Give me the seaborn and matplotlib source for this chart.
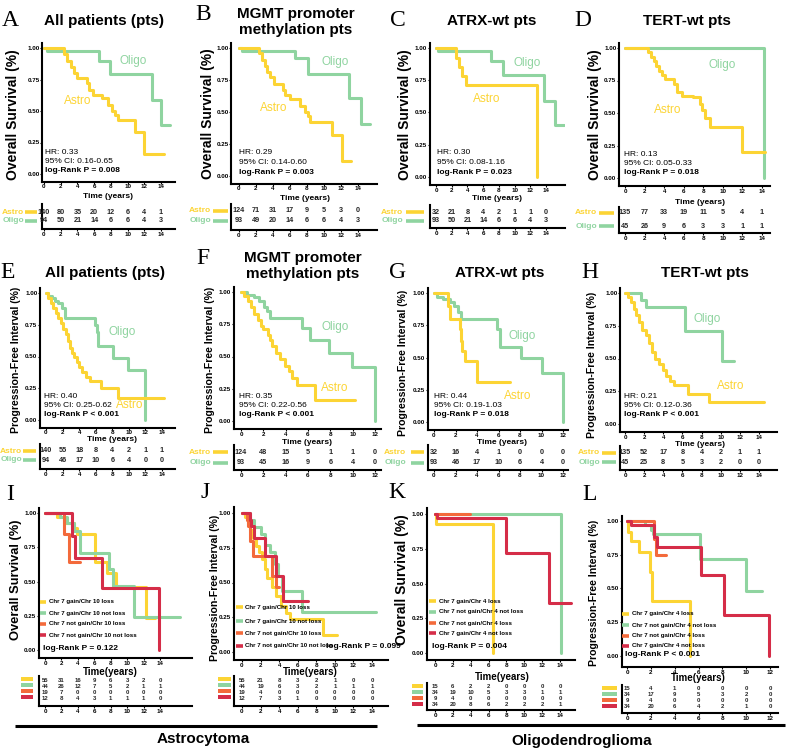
import matplotlib
matplotlib.use("Agg")
import matplotlib.pyplot as plt
from matplotlib.lines import Line2D
from matplotlib.patches import Rectangle
import seaborn as sns

sns.set_style("ticks")
plt.rcParams["font.family"] = ["Liberation Sans", "DejaVu Sans"]

YEL = "#FCD434"
GRN = "#8FD4A0"
ORG = "#F36A3B"
RED = "#D52D48"

# ---------------- data ----------------
# A  overall survival, all patients
a_astro_t = [0, 2.4, 2.8, 3.2, 3.6, 4.0, 5.2, 5.4, 5.9, 6.9, 7.6, 8.1, 8.5, 8.8, 10.9, 12.0, 14.3]
a_astro_s = [1.0, 0.95, 0.90, 0.85, 0.80, 0.76, 0.72, 0.67, 0.63, 0.60, 0.55, 0.50, 0.47, 0.43, 0.33, 0.16, 0.16]
a_oligo_t = [0, 0.4, 6.6, 7.9, 12.9, 14.0, 15.1]
a_oligo_s = [1.0, 0.98, 0.90, 0.79, 0.59, 0.39, 0.39]
a_stats = ["HR: 0.33", "95% CI: 0.16-0.65", "log-Rank P = 0.008"]
a_risk = [[140, 80, 35, 20, 12, 6, 4, 1], [94, 50, 21, 14, 6, 6, 4, 3]]

# B  overall survival, MGMT promoter methylation
b_astro_t = [0, 2.3, 2.7, 3.0, 3.3, 3.7, 4.1, 5.2, 5.4, 6.0, 7.2, 7.8, 8.1, 8.4, 10.9, 12.1, 13.2]
b_astro_s = [1.0, 0.96, 0.91, 0.86, 0.81, 0.77, 0.72, 0.67, 0.63, 0.60, 0.55, 0.50, 0.47, 0.42, 0.32, 0.12, 0.12]
b_oligo_t = [0, 0.3, 6.6, 8.1, 12.9, 14.3, 15.4]
b_oligo_s = [1.0, 0.98, 0.92, 0.80, 0.61, 0.41, 0.41]
b_stats = ["HR: 0.29", "95% CI: 0.14-0.60", "log-Rank P = 0.003"]
b_risk = [[124, 71, 31, 17, 9, 5, 3, 0], [93, 49, 20, 14, 6, 6, 4, 3]]

# C  overall survival, ATRX-wt
c_astro_t = [0, 2.6, 2.9, 3.3, 3.8, 12.8]
c_astro_s = [1.0, 0.92, 0.85, 0.78, 0.71, 0.0]
c_oligo_t = [0, 0.3, 7.0, 8.5, 13.8, 15.1, 16.3]
c_oligo_s = [1.0, 0.98, 0.90, 0.79, 0.59, 0.40, 0.40]
c_stats = ["HR: 0.30", "95% CI: 0.08-1.16", "log-Rank P = 0.023"]
c_risk = [[32, 21, 8, 4, 2, 1, 1, 0], [93, 50, 21, 14, 6, 6, 4, 3]]

# D  overall survival, TERT-wt
d_astro_t = [0, 2.4, 2.7, 3.0, 3.2, 3.5, 3.8, 4.1, 5.05, 5.3, 5.8, 6.9, 7.7, 7.9, 8.2, 8.7, 12.0, 14.3]
d_astro_s = [1.0, 0.97, 0.93, 0.90, 0.86, 0.82, 0.79, 0.76, 0.72, 0.66, 0.63, 0.62, 0.57, 0.52, 0.46, 0.39, 0.20, 0.20]
d_oligo_t = [0, 14.2]
d_oligo_s = [1.0, 0.0]
d_stats = ["HR: 0.13", "95% CI: 0.05-0.33", "log-Rank P = 0.018"]
d_risk = [[135, 77, 33, 19, 11, 5, 4, 1], [45, 26, 9, 6, 3, 3, 1, 1]]

# E  progression-free interval, all patients
e_astro_t = [0, 0.3, 0.6, 0.9, 1.2, 1.5, 1.8, 2.1, 2.4, 2.7, 2.9, 3.1, 3.4, 3.7, 4.0, 4.4, 4.8, 5.3, 6.6, 8.7, 14.3]
e_astro_s = [1.0, 0.96, 0.92, 0.88, 0.84, 0.80, 0.76, 0.72, 0.68, 0.62, 0.57, 0.53, 0.50, 0.46, 0.42, 0.38, 0.34, 0.31, 0.25, 0.17, 0.17]
e_oligo_t = [0, 0.3, 0.7, 1.1, 1.5, 1.9, 2.3, 5.9, 6.1, 6.3, 8.1, 9.9, 11.9]
e_oligo_s = [1.0, 0.98, 0.96, 0.94, 0.92, 0.88, 0.80, 0.75, 0.69, 0.58, 0.49, 0.39, 0.0]
e_stats = ["HR: 0.40", "95% CI: 0.25-0.62", "log-Rank P < 0.001"]
e_risk = [[140, 55, 18, 8, 4, 2, 1, 1], [94, 46, 17, 10, 6, 4, 0, 0]]

# F  progression-free interval, MGMT promoter methylation
f_astro_t = [0, 0.3, 0.6, 0.9, 1.2, 1.5, 1.8, 2.0, 2.4, 2.6, 2.8, 3.1, 3.5, 3.9, 4.3, 4.6, 5.0, 6.6, 10.2]
f_astro_s = [1.0, 0.97, 0.93, 0.88, 0.83, 0.78, 0.74, 0.71, 0.67, 0.63, 0.58, 0.53, 0.48, 0.43, 0.39, 0.33, 0.28, 0.16, 0.16]
f_oligo_t = [0, 0.5, 1.2, 1.6, 2.1, 2.3, 2.6, 5.5, 6.2, 7.9, 9.9, 12.0]
f_oligo_s = [1.0, 0.98, 0.96, 0.93, 0.88, 0.85, 0.80, 0.72, 0.63, 0.53, 0.42, 0.0]
f_stats = ["HR: 0.35", "95% CI: 0.22-0.56", "log-Rank P < 0.001"]
f_risk = [[124, 48, 15, 5, 1, 1, 0], [93, 45, 16, 9, 6, 4, 0]]

# G  progression-free interval, ATRX-wt
g_astro_t = [0, 1.3, 1.5, 2.4, 2.5, 2.6, 2.9, 4.0, 7.1]
g_astro_s = [1.0, 0.90, 0.80, 0.72, 0.63, 0.55, 0.47, 0.31, 0.31]
g_oligo_t = [0, 0.3, 0.8, 1.5, 1.9, 2.2, 2.5, 5.9, 6.1, 8.1, 10.0, 12.0]
g_oligo_s = [1.0, 0.97, 0.95, 0.93, 0.90, 0.85, 0.80, 0.72, 0.58, 0.50, 0.38, 0.0]
g_stats = ["HR: 0.44", "95% CI: 0.19-1.03", "log-Rank P = 0.018"]
g_risk = [[32, 16, 4, 1, 0, 0, 0], [93, 46, 17, 10, 6, 4, 0]]

# H  progression-free interval, TERT-wt
h_astro_t = [0, 0.3, 0.6, 0.9, 1.2, 1.5, 1.8, 2.2, 2.5, 2.8, 3.1, 3.5, 4.0, 4.3, 4.7, 5.1, 6.6, 8.8, 14.5]
h_astro_s = [1.0, 0.97, 0.93, 0.88, 0.83, 0.78, 0.72, 0.68, 0.62, 0.55, 0.50, 0.46, 0.41, 0.37, 0.33, 0.30, 0.23, 0.17, 0.17]
h_oligo_t = [0, 1.7, 2.2, 6.3, 10.1, 11.4]
h_oligo_s = [1.0, 0.95, 0.89, 0.71, 0.48, 0.48]
h_stats = ["HR: 0.21", "95% CI: 0.12-0.36", "log-Rank P < 0.001"]
h_risk = [[135, 52, 17, 8, 4, 2, 1, 1], [45, 25, 8, 5, 3, 2, 0, 0]]

# I  astrocytoma OS by chr 7 / chr 10
astro_groups = ["Chr 7 gain/Chr 10 loss", "Chr 7 gain/Chr 10 not loss",
                "Chr 7 not gain/Chr 10 loss", "Chr 7 not gain/Chr 10 not loss"]
i_t = [[0, 1.4, 2.3, 3.5, 3.9, 6.1, 7.5, 8.7, 12.3, 13.4],
       [0, 1.8, 2.7, 3.5, 4.3, 7.8, 8.3, 10.8, 16.4],
       [0, 2.3, 2.9, 4.3],
       [0, 3.3, 3.7, 6.9, 13.9]]
i_s = [[1.0, 0.97, 0.93, 0.89, 0.85, 0.64, 0.56, 0.46, 0.23, 0.23],
       [1.0, 0.97, 0.93, 0.87, 0.71, 0.59, 0.47, 0.24, 0.24],
       [1.0, 0.85, 0.64, 0.64],
       [1.0, 0.83, 0.67, 0.45, 0.0]]
i_p = "log-Rank P = 0.122"
i_risk = [[55, 31, 16, 9, 6, 3, 2, 0], [44, 26, 12, 7, 5, 2, 1, 1],
          [19, 7, 0, 0, 0, 0, 0, 0], [12, 8, 4, 3, 1, 1, 1, 0]]

# J  astrocytoma PFI by chr 7 / chr 10
j_t = [[0, 0.3, 0.6, 0.9, 1.2, 1.5, 1.8, 2.1, 2.5, 2.7, 3.2, 3.7, 4.2, 4.7, 5.2, 8.7, 10.2],
       [0, 0.9, 1.3, 2.0, 2.5, 3.0, 3.5, 3.9, 4.3, 6.5, 14.4],
       [0, 0.5, 0.6, 0.9, 1.2, 3.2, 3.7, 4.0],
       [0, 0.9, 1.0, 1.3, 2.5, 3.7, 4.4, 7.1]]
j_s = [[1.0, 0.97, 0.93, 0.88, 0.82, 0.76, 0.72, 0.67, 0.60, 0.53, 0.47, 0.40, 0.33, 0.28, 0.24, 0.12, 0.12],
       [1.0, 0.95, 0.90, 0.85, 0.77, 0.72, 0.63, 0.55, 0.44, 0.29, 0.29],
       [1.0, 0.95, 0.91, 0.80, 0.69, 0.55, 0.47, 0.47],
       [1.0, 0.95, 0.91, 0.82, 0.69, 0.55, 0.37, 0.37]]
j_p = "log-Rank P = 0.099"
j_risk = [[55, 21, 8, 3, 2, 1, 0, 0], [44, 19, 6, 3, 2, 1, 1, 1],
          [19, 4, 0, 0, 0, 0, 0, 0], [12, 7, 3, 1, 0, 0, 0, 0]]

# K  oligodendroglioma OS by chr 7 / chr 4
oligo_groups = ["Chr 7 gain/Chr 4 loss", "Chr 7 not gain/Chr 4 not loss",
                "Chr 7 not gain/Chr 4 loss", "Chr 7 gain/Chr 4 not loss"]
k_t = [[0, 0.1, 6.5], [0, 14.1], [0, 3.9], [0, 0.2, 7.9, 12.8, 15.2]]
k_s = [[1.0, 0.93, 0.0], [1.0, 0.0], [1.0, 1.0], [1.0, 0.97, 0.72, 0.36, 0.36]]
k_p = "log-Rank P = 0.004"
k_risk = [[15, 6, 2, 2, 0, 0, 0, 0], [34, 19, 10, 5, 3, 3, 1, 1],
          [9, 4, 0, 0, 0, 0, 0, 0], [34, 20, 8, 6, 2, 2, 2, 1]]

# L  oligodendroglioma PFI by chr 7 / chr 4
l_t = [[0, 0.1, 0.3, 1.0, 1.9, 2.1, 5.3],
       [0, 1.5, 2.0, 2.2, 6.1, 10.0, 11.3],
       [0, 2.3, 2.4, 3.3],
       [0, 0.3, 2.3, 2.5, 6.2, 8.1, 11.9]]
l_s = [[1.0, 0.92, 0.85, 0.77, 0.62, 0.41, 0.0],
       [1.0, 0.97, 0.93, 0.90, 0.72, 0.48, 0.48],
       [1.0, 0.87, 0.75, 0.75],
       [1.0, 0.97, 0.88, 0.81, 0.60, 0.30, 0.0]]
l_p = "log-Rank P < 0.001"
l_risk = [[15, 4, 1, 0, 0, 0, 0], [34, 17, 9, 5, 3, 2, 0],
          [9, 4, 0, 0, 0, 0, 0], [34, 20, 6, 4, 2, 1, 0]]

chr_colors = [YEL, GRN, ORG, RED]
os_label = "Overall Survival (%)"
pfi_label = "Progression-Free Interval (%)"

# ---------------- figure helpers (pixel coordinates) ----------------
W, H = 787, 750
fig = plt.figure(figsize=(W / 100, H / 100), dpi=100)


def txt(x, y, s, size=7, weight="normal", color="black", ha="left", va="center", rot=0, family=None):
    kw = {"family": family} if family else {}
    fig.text(x / W, 1 - y / H, s, fontsize=size, fontweight=weight, color=color,
             ha=ha, va=va, rotation=rot, **kw)


def hline(x0, x1, y, color, lw):
    fig.add_artist(Line2D([x0 / W, x1 / W], [1 - y / H, 1 - y / H], color=color, lw=lw,
                          solid_capstyle="butt"))


def block(x0, x1, yc, h, color):
    fig.add_artist(Rectangle((x0 / W, 1 - (yc + h / 2) / H), (x1 - x0) / W, h / H,
                             facecolor=color, edgecolor="none"))


def add_ax(x0, xt, tmax, xlim, top, bottom):
    sx = (xt - x0) / tmax
    left = x0 + xlim[0] * sx
    right = x0 + xlim[1] * sx
    return fig.add_axes([left / W, 1 - bottom / H, (right - left) / W, (bottom - top) / H])


def style(ax):
    sns.despine(ax=ax)
    for s in ["left", "bottom"]:
        ax.spines[s].set_linewidth(1.5)
        ax.spines[s].set_color("black")
    ax.tick_params(length=1.4, width=0.8, pad=0.6, labelsize=4.5, colors="black")
    for lab in ax.get_xticklabels() + ax.get_yticklabels():
        lab.set_fontweight("bold")
    ax.set_xlabel("")
    ax.set_ylabel("")


def km_panel(x0, xt, tmax, y1, y0, xlim, times, survs, colors, ylim=(-0.06, 1.04)):
    sy = y0 - y1
    ax = add_ax(x0, xt, tmax, xlim, y0 - ylim[1] * sy, y0 - ylim[0] * sy)
    for t, s, c in zip(times, survs, colors):
        sns.lineplot(x=t, y=s, ax=ax, color=c, lw=2.2, drawstyle="steps-post",
                     estimator=None, sort=False, legend=False)
    ax.set_xlim(xlim)
    ax.set_ylim(ylim)
    ax.set_xticks(list(range(0, tmax + 1, 2)))
    ax.set_yticks([0, 0.25, 0.5, 0.75, 1.0])
    ax.set_yticklabels(["0.00", "0.25", "0.50", "0.75", "1.00"])
    style(ax)
    return ax


def risk_table(x0, xt, tmax, xlim, top, bottom, rows, counts, size=5.2):
    ax = add_ax(x0, xt, tmax, xlim, top, bottom)
    ticks = list(range(0, tmax + 1, 2))
    for ry, row in zip(rows, counts):
        for tk, n in zip(ticks, row):
            ax.text(tk, ry, str(n), ha="center", va="center", fontsize=size, fontweight="bold")
    ax.set_xlim(xlim)
    ax.set_ylim(bottom, top)
    ax.set_xticks(ticks)
    ax.set_yticks([])
    style(ax)
    return ax


def stats_text(x, y, lines):
    txt(x, y, lines[0], size=6)
    txt(x, y + 9.5, lines[1], size=6)
    txt(x, y + 19, lines[2], size=6, weight="bold")


def group_labels(right, b0, b1, rows):
    for ry, name, c in zip(rows, ["Astro", "Oligo"], [YEL, GRN]):
        txt(right, ry, name, size=6, weight="bold", color=c, ha="right")
        hline(b0, b1, ry, c, 2.6)


def letter(x, y, s):
    txt(x, y, s, size=17, ha="center", family="Liberation Serif")


# ---------------- rows 1 and 2 : Astro vs Oligo ----------------
panels_top = [
    ("A", 10, ["All patients (pts)"], 104, 21, 44, 161, (-0.2, 15.7), 48, 174,
     (a_astro_t, a_astro_s), (a_oligo_t, a_oligo_s), a_stats, (45, 152), (133, 61), (78, 101),
     a_risk, (204, 229, (212, 221)), (24, 25, 37), (13, 115), (108, 196)),
    ("B", 203, ["MGMT promoter", "methylation pts"], 296, 14, 239, 358, (-0.9, 16.2), 48, 176,
     (b_astro_t, b_astro_s), (b_oligo_t, b_oligo_s), b_stats, (239, 153), (335, 62), (274, 108),
     b_risk, (204, 230, (211, 221)), (211, 213, 228), (208, 114), (305, 198)),
    ("C", 398, ["ATRX-wt pts"], 492, 21, 436, 546, (-0.76, 16.4), 48, 177,
     (c_astro_t, c_astro_s), (c_oligo_t, c_oligo_s), c_stats, (437, 153), (527, 63), (487, 99),
     c_risk, (205, 228, (212, 221)), (403, 406, 424), (405, 115), (497, 198)),
    ("D", 583, ["TERT-wt pts"], 687, 21, 625, 762, (-0.6, 14.8), 48, 178,
     (d_astro_t, d_astro_s), (d_oligo_t, d_oligo_s), d_stats, (624, 154), (722, 65), (668, 110),
     d_risk, (207, 233, (213, 226)), (597, 599, 614), (595, 115), (700, 202)),
]

panels_mid = [
    ("E", 8, ["All patients (pts)"], 105, 273, 46, 162, (-0.7, 15.6), 293, 420,
     (e_astro_t, e_astro_s), (e_oligo_t, e_oligo_s), e_stats, (44, 396), (122, 332), (130, 405),
     e_risk, (444, 469, (451, 460)), (22, 23, 36), (16, 360), (112, 439)),
    ("F", 203, ["MGMT promoter", "methylation pts"], 303, 258, 241, 375, (-0.63, 12.5), 292, 421,
     (f_astro_t, f_astro_s), (f_oligo_t, f_oligo_s), f_stats, (239, 396), (335, 327), (335, 388),
     f_risk, (445, 470, (452, 463)), (211, 213, 228), (210, 360), (307, 442)),
    ("G", 398, ["ATRX-wt pts"], 500, 273, 434, 563, (-0.56, 12.5), 293, 422,
     (g_astro_t, g_astro_s), (g_oligo_t, g_oligo_s), g_stats, (434, 396), (522, 336), (518, 396),
     g_risk, (445, 470, (452, 463)), (406, 411, 424), (403, 363), (502, 442)),
    ("H", 590, ["TERT-wt pts"], 705, 273, 625, 759, (-0.5, 15.9), 293, 424,
     (h_astro_t, h_astro_s), (h_oligo_t, h_oligo_s), h_stats, (624, 396), (707, 319), (731, 386),
     h_risk, (446, 470, (453, 462)), (600, 602, 616), (592, 365), (700, 444)),
]

for row_panels, ylab, ylsize in [(panels_top, os_label, 10), (panels_mid, pfi_label, 7.6)]:
    for (let, lx, title, tx, ty, x0, xt, xlim, y1, y0, astro, oligo, st, sxy, oxy, axy,
         risk, tab, lab, yl, xl) in row_panels:
        tmax = 14 if xlim[1] > 13 else 12
        km_panel(x0, xt, tmax, y1, y0, xlim, [oligo[0], astro[0]], [oligo[1], astro[1]], [GRN, YEL])
        letter(lx, ty if len(title) == 1 else ty + 1, let)
        for k, line in enumerate(title):
            txt(tx, ty + k * 16, line, size=11, weight="bold", ha="center")
        stats_text(sxy[0], sxy[1], st)
        txt(oxy[0], oxy[1], "Oligo", size=8.5, color=GRN, ha="center")
        txt(axy[0], axy[1], "Astro", size=8.5, color=YEL, ha="center")
        txt(yl[0], yl[1], ylab, size=ylsize, weight="bold", ha="center", rot=90)
        txt(xl[0], xl[1], "Time (years)", size=6, weight="bold", ha="center")
        risk_table(x0, xt, tmax, xlim, tab[0], tab[1], tab[2], risk)
        group_labels(lab[0], lab[1], lab[2], tab[2])

# ---------------- row 3 : chromosome groups ----------------
panels_bot = [
    ("I", 10, 495, 45, 160, 14, (-0.7, 17.9), 513, 650, (-0.06, 1.04), i_t, i_s, astro_groups,
     (602, 613, 624, 635), (40, 46, 49), i_p, (43, 648), i_risk, (676, 706, (680, 686, 692, 698)),
     (21, 33), os_label, 9.3, (16, 580), (110, 672)),
    ("J", 205, 492, 242, 372, 14, (-0.86, 15.7), 513, 652, (-0.06, 1.04), j_t, j_s, astro_groups,
     (607, 621, 633, 646), (236, 243, 245), j_p, (326, 646), j_risk, (676, 706, (680, 686, 692, 698)),
     (218, 231), pfi_label, 7.6, (215, 588), (310, 672)),
    ("K", 397, 492, 435, 560, 14, (-0.9, 15.7), 514, 653, (-0.05, 1.04), k_t, k_s, oligo_groups,
     (601, 612, 623, 633), (429, 436, 439), k_p, (432, 647), k_risk, (683, 710, (687, 693, 699, 705)),
     (412, 423), os_label, 10, (402, 580), (502, 677)),
    ("L", 590, 495, 627, 770, 12, (-0.42, 12.7), 521, 656, (-0.08, 1.04), l_t, l_s, oligo_groups,
     (614, 625, 636, 646), (622, 629, 632), l_p, (625, 654), l_risk, (685, 713, (689, 695, 701, 707)),
     (602, 617), pfi_label, 7.6, (594, 593), (698, 678)),
]

for (let, lx, ly, x0, xt, tmax, xlim, y1, y0, ylim, times, survs, groups, leg_y, leg_x, ptxt, pxy,
     risk, tab, blk, ylab, ylsize, yl, xl) in panels_bot:
    km_panel(x0, xt, tmax, y1, y0, xlim, times, survs, chr_colors, ylim=ylim)
    letter(lx, ly, let)
    for gy, name, c in zip(leg_y, groups, chr_colors):
        hline(leg_x[0], leg_x[1], gy, c, 2.6)
        txt(leg_x[2], gy, name, size=4.4, weight="bold")
    txt(pxy[0], pxy[1], ptxt, size=6, weight="bold")
    txt(yl[0], yl[1], ylab, size=ylsize, weight="bold", ha="center", rot=90)
    txt(xl[0], xl[1], "Time(years)", size=7, weight="bold", ha="center")
    risk_table(x0, xt, tmax, xlim, tab[0], tab[1], tab[2], risk, size=4.3)
    for ry, c in zip(tab[2], chr_colors):
        block(blk[0], blk[1], ry - 1, 4.5, c)

# ---------------- group captions ----------------
hline(15, 377, 726, "black", 2.2)
hline(417, 785, 725, "black", 2.2)
txt(203, 739, "Astrocytoma", size=11, weight="bold", ha="center")
txt(582, 741, "Oligodendroglioma", size=11, weight="bold", ha="center")

fig.savefig("out.png", dpi=100)
